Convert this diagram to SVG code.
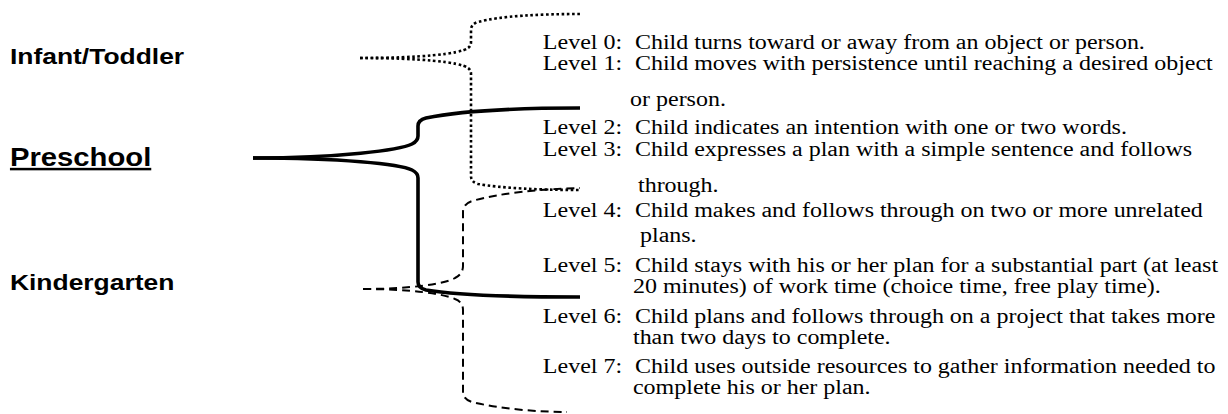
<svg xmlns="http://www.w3.org/2000/svg" width="1228" height="414" viewBox="0 0 1228 414">
<style>
.lbl{font-family:"Liberation Sans",Arial,sans-serif;font-weight:bold;font-size:22.6px;fill:#000}
.lv{font-family:"Liberation Serif","Times New Roman",serif;font-size:20.5px;fill:#000}
.b{fill:none;stroke:#000;stroke-linecap:butt;stroke-linejoin:round}
.dot{stroke-width:2.6;stroke-dasharray:2.6 2.6}
.dash{stroke-width:2;stroke-dasharray:8 5}
.solid{stroke-width:3.6}
</style>
<rect width="1228" height="414" fill="#fff"/>
<g id="connectors">
<path class="b dot" d="M360,58 C420,58 460,54 468,48 Q471,46 471,42 L471,30 Q471,24 478,22 C500,16 540,14 580,14"/>
<path class="b dot" d="M360,58 C420,58 460,62 468,68 Q471,70 471,74 L471,176 Q471,182 478,184 C500,188 540,190 580,190"/>
<path class="b solid" d="M253,158 C340,158 400,150 412,144 Q418,141 418,136 L418,126 Q418,120 426,118 C460,111 520,108 580,108"/>
<path class="b solid" d="M253,158 C340,158 400,164 412,170 Q418,173 418,178 L418,282 Q418,288 426,290 C460,296 520,297 580,297"/>
<path class="b dash" d="M363,289 C410,289 445,284 455,278 Q463,274 463,266 L463,212 Q463,204 472,201 C500,193 540,189 580,188"/>
<path class="b dash" d="M363,289 C410,289 445,294 455,299 Q463,302 463,310 L463,392 Q463,399 472,402 C500,409 540,412 567,412"/>
</g>
<g transform="scale(1.17,1)">
<g id="infant-toddler"><text class="lbl" x="8.5" y="64">Infant/Toddler</text></g>
<g id="preschool"><text class="lbl" x="8.5" y="166" style="font-size:25px;text-decoration:underline">Preschool</text></g>
<g id="kindergarten"><text class="lbl" x="8.5" y="290">Kindergarten</text></g>
<g id="levels">
<text class="lv" x="464" y="49">Level 0:<tspan x="542.7">Child turns toward or away from an object or person.</tspan></text>
<text class="lv" x="464" y="70">Level 1:<tspan x="542.7">Child moves with persistence until reaching a desired object</tspan></text>
<text class="lv" x="538.5" y="106">or person.</text>
<text class="lv" x="464" y="134">Level 2:<tspan x="542.7">Child indicates an intention with one or two words.</tspan></text>
<text class="lv" x="464" y="156">Level 3:<tspan x="542.7">Child expresses a plan with a simple sentence and follows</tspan></text>
<text class="lv" x="545.3" y="192">through.</text>
<text class="lv" x="464" y="217">Level 4:<tspan x="542.7">Child makes and follows through on two or more unrelated</tspan></text>
<text class="lv" x="547" y="242">plans.</text>
<text class="lv" x="464" y="272">Level 5:<tspan x="542.7">Child stays with his or her plan for a substantial part (at least</tspan></text>
<text class="lv" x="541" y="293">20 minutes) of work time (choice time, free play time).</text>
<text class="lv" x="464" y="323">Level 6:<tspan x="542.7">Child plans and follows through on a project that takes more</tspan></text>
<text class="lv" x="541" y="344">than two days to complete.</text>
<text class="lv" x="464" y="373">Level 7:<tspan x="542.7">Child uses outside resources to gather information needed to</tspan></text>
<text class="lv" x="541" y="394">complete his or her plan.</text>
</g>
</g>
</svg>
